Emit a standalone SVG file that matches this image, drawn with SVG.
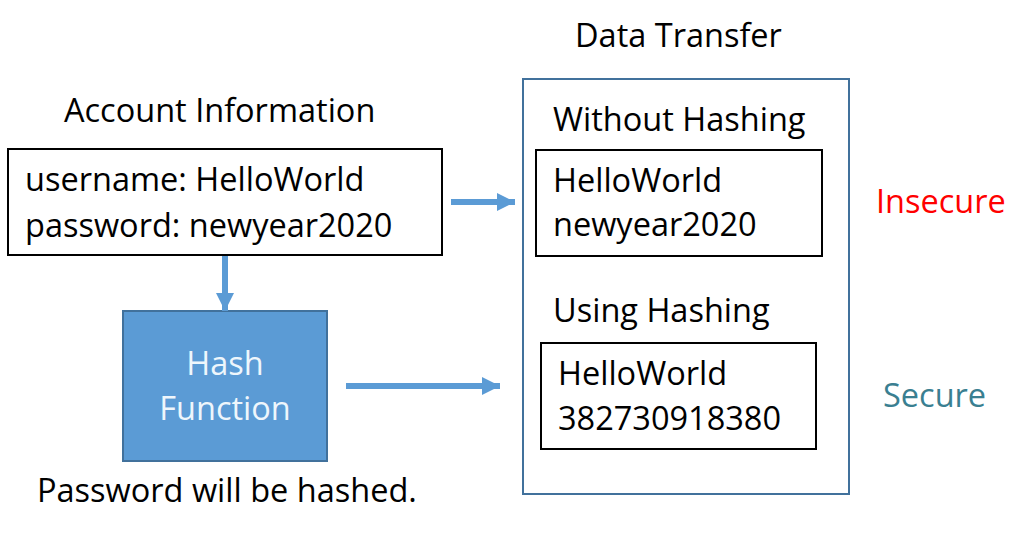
<svg xmlns="http://www.w3.org/2000/svg" width="1036" height="537" viewBox="0 0 1036 537">
<defs>
<marker id="ah" viewBox="0 0 10 10" refX="10" refY="5" markerWidth="3" markerHeight="3" orient="auto" markerUnits="strokeWidth">
<path d="M0,0 L10,5 L0,10 Z" fill="#5B9BD5"/>
</marker>
<style>
text{font-family:"Open Sans","Noto Sans","DejaVu Sans",sans-serif;font-size:32.5px;fill:#000}
.box{fill:#fff;stroke:#000;stroke-width:2}
.frame{fill:#fff;stroke:#41719C;stroke-width:2}
.conn{stroke:#5B9BD5;stroke-width:6;fill:none;marker-end:url(#ah)}
</style>
</defs>
<rect width="1036" height="537" fill="#fff"/>
<text x="575" y="47">Data Transfer</text>
<text x="64" y="122">Account Information</text>
<g id="account">
<rect class="box" x="8" y="149" width="434" height="106"/>
<text x="25" y="191">username: HelloWorld</text>
<text x="25" y="237">password: newyear2020</text>
</g>
<g id="hash">
<rect x="123" y="311" width="204" height="150" fill="#5B9BD5" stroke="#41719C" stroke-width="2"/>
<text x="225" y="375" text-anchor="middle" style="fill:#EEF6FC">Hash</text>
<text x="225" y="420" text-anchor="middle" style="fill:#EEF6FC">Function</text>
</g>
<text x="37" y="502">Password will be hashed.</text>
<g id="transfer">
<rect class="frame" x="523" y="79" width="326" height="415"/>
<text x="553" y="131">Without Hashing</text>
<g id="plain">
<rect class="box" x="536" y="150" width="286" height="106"/>
<text x="553" y="192">HelloWorld</text>
<text x="553" y="236">newyear2020</text>
</g>
<text x="553" y="322">Using Hashing</text>
<g id="hashed">
<rect class="box" x="541" y="343" width="275" height="106"/>
<text x="558" y="385">HelloWorld</text>
<text x="558" y="430">382730918380</text>
</g>
</g>
<text x="876" y="213" style="fill:#FF0000">Insecure</text>
<text x="883" y="407" style="fill:#3A7F91">Secure</text>
<g id="connectors">
<line class="conn" x1="225" y1="256" x2="225" y2="311"/>
<line class="conn" x1="451" y1="202" x2="515" y2="202"/>
<line class="conn" x1="346" y1="386" x2="500" y2="386"/>
</g>
</svg>
